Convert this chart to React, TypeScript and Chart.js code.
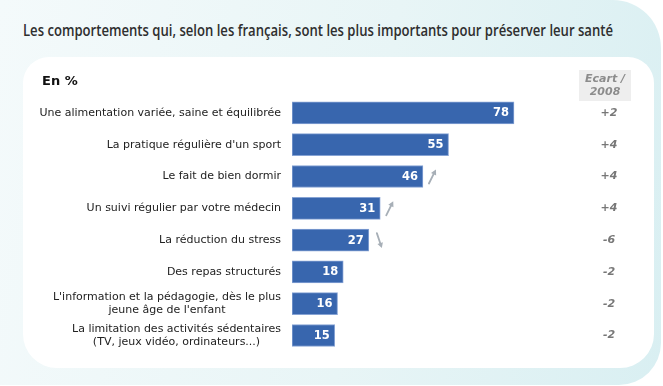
import { useEffect, useRef } from "react";
import { Chart, registerables } from "chart.js";

Chart.register(...registerables);

const title =
  "Les comportements qui, selon les français, sont les plus importants pour préserver leur santé";
const unitLabel = "En %";
const deltaHeader = ["Ecart /", "2008"];

const categories: string[][] = [
  ["Une alimentation variée, saine et équilibrée"],
  ["La pratique régulière d'un sport"],
  ["Le fait de bien dormir"],
  ["Un suivi régulier par votre médecin"],
  ["La réduction du stress"],
  ["Des repas structurés"],
  ["L'information et la pédagogie, dès le plus", "jeune âge de l'enfant"],
  ["La limitation des activités sédentaires", "(TV, jeux vidéo, ordinateurs...)"],
];
const shares = [78, 55, 46, 31, 27, 18, 16, 15];
const deltas = ["+2", "+4", "+4", "+4", "-6", "-2", "-2", "-2"];
// 1 = rising, -1 = falling, 0 = no marker
const trends = [0, 0, 1, 1, -1, 0, 0, 0];

const W = 663;
const H = 386;
const BAR_BLUE = "#3866ae";
const LABEL_FONT = "DejaVu Sans, Verdana, sans-serif";

function drawArrow(ctx: CanvasRenderingContext2D, x1: number, y1: number, x2: number, y2: number) {
  const ang = Math.atan2(y2 - y1, x2 - x1);
  const head = 6;
  ctx.save();
  ctx.strokeStyle = "#a7afb7";
  ctx.fillStyle = "#a7afb7";
  ctx.lineWidth = 1.8;
  ctx.lineCap = "round";
  ctx.beginPath();
  ctx.moveTo(x1, y1);
  ctx.lineTo(x2 - Math.cos(ang) * 3, y2 - Math.sin(ang) * 3);
  ctx.stroke();
  ctx.beginPath();
  ctx.moveTo(x2, y2);
  ctx.lineTo(x2 - head * Math.cos(ang - 0.5), y2 - head * Math.sin(ang - 0.5));
  ctx.lineTo(x2 - head * Math.cos(ang + 0.5), y2 - head * Math.sin(ang + 0.5));
  ctx.closePath();
  ctx.fill();
  ctx.restore();
}

const annotations = {
  id: "annotations",
  afterDatasetsDraw(chart: any) {
    const ctx: CanvasRenderingContext2D = chart.ctx;
    const xs = chart.scales.x;
    const ys = chart.scales.y;
    ctx.save();

    // unit caption
    ctx.fillStyle = "#111";
    ctx.font = `bold 13px ${LABEL_FONT}`;
    ctx.textAlign = "left";
    ctx.textBaseline = "alphabetic";
    ctx.fillText(unitLabel, 42, 85);

    // delta column header
    ctx.fillStyle = "#eeeeee";
    ctx.fillRect(579, 70, 52, 31);
    ctx.fillStyle = "#8c8c8c";
    ctx.font = `italic bold 11px ${LABEL_FONT}`;
    ctx.textAlign = "center";
    ctx.textBaseline = "middle";
    ctx.fillText(deltaHeader[0], 605, 79);
    ctx.fillText(deltaHeader[1], 605, 92);

    shares.forEach((v, i) => {
      const y = ys.getPixelForValue(i);
      const xEnd = xs.getPixelForValue(v);
      const x0 = xs.getPixelForValue(0);

      // category label, lines centred on each other, block right-aligned
      ctx.font = `11px ${LABEL_FONT}`;
      ctx.fillStyle = "#222";
      ctx.textAlign = "center";
      ctx.textBaseline = "middle";
      const lines = categories[i];
      const blockW = Math.max(...lines.map((l) => ctx.measureText(l).width));
      const cx = x0 - 11 - blockW / 2;
      const lh = 13;
      lines.forEach((l, k) => {
        ctx.fillText(l, cx, y + (k - (lines.length - 1) / 2) * lh);
      });

      // value inside the bar
      ctx.font = `bold 11.5px ${LABEL_FONT}`;
      ctx.fillStyle = "#ffffff";
      ctx.textAlign = "right";
      ctx.fillText(String(v), xEnd - 5, y + 0.5);

      // change vs 2008
      ctx.font = `italic bold 11px ${LABEL_FONT}`;
      ctx.fillStyle = "#777";
      ctx.textAlign = "center";
      ctx.fillText(deltas[i], 609, y);

      if (trends[i] > 0) drawArrow(ctx, xEnd + 6, y + 7, xEnd + 13, y - 7);
      if (trends[i] < 0) drawArrow(ctx, xEnd + 8, y - 7, xEnd + 13, y + 8);
    });
    ctx.restore();
  },
};

export default function App() {
  const canvasRef = useRef<HTMLCanvasElement>(null);
  const titleRef = useRef<HTMLSpanElement>(null);

  useEffect(() => {
    const t = titleRef.current;
    if (t) {
      const w = t.getBoundingClientRect().width;
      if (w > 0) t.style.transform = `scaleX(${590 / w})`;
    }
    const canvas = canvasRef.current;
    if (!canvas) return;
    const pxPerUnit = 222 / 78;
    const left = 292;
    const right = W - (left + 100 * pxPerUnit);
    const chart = new Chart(canvas, {
      type: "bar",
      data: {
        labels: categories.map((c) => c.join(" ")),
        datasets: [
          {
            data: shares,
            backgroundColor: BAR_BLUE,
            borderColor: "#86a3d4",
            borderWidth: 1,
            borderSkipped: false,
            barThickness: 22,
          },
        ],
      },
      options: {
        indexAxis: "y",
        responsive: false,
        animation: false,
        events: [],
        layout: { padding: { left: 0, right, top: 97, bottom: 34.6 } },
        plugins: { legend: { display: false }, tooltip: { enabled: false } },
        scales: {
          x: { min: 0, max: 100, display: false },
          y: {
            display: true,
            grid: { display: false },
            border: { display: false },
            ticks: { display: false },
            afterFit: (s: any) => {
              s.width = left;
            },
          },
        },
      },
      plugins: [annotations],
    });
    return () => chart.destroy();
  }, []);

  return (
    <div
      style={{
        position: "absolute",
        left: 0,
        top: 0,
        width: W,
        height: H,
        background: "#ffffff",
        overflow: "hidden",
      }}
    >
      <div
        style={{
          position: "absolute",
          left: 0,
          top: 0,
          width: 661,
          height: 385,
          borderRadius: "0 48px 42px 0",
          background: "linear-gradient(100deg, #f4fafb 0%, #e8f5f6 55%, #d9eff2 100%)",
        }}
      />
      <div
        style={{
          position: "absolute",
          left: 23,
          top: 57,
          width: 631,
          height: 311,
          borderRadius: "26px 26px 34px 34px",
          background: "#ffffff",
        }}
      />
      <div style={{ position: "absolute", left: 23, top: 20, height: 22, whiteSpace: "nowrap" }}>
        <span
          ref={titleRef}
          style={{
            display: "inline-block",
            transformOrigin: "0 0",
            fontFamily: "'Open Sans', sans-serif",
            fontWeight: 600,
            fontSize: 16,
            lineHeight: "21px",
            color: "#2f2f2f",
          }}
        >
          {title}
        </span>
      </div>
      <canvas
        ref={canvasRef}
        width={W}
        height={H}
        style={{ position: "absolute", left: 0, top: 0, width: W, height: H }}
      />
    </div>
  );
}
